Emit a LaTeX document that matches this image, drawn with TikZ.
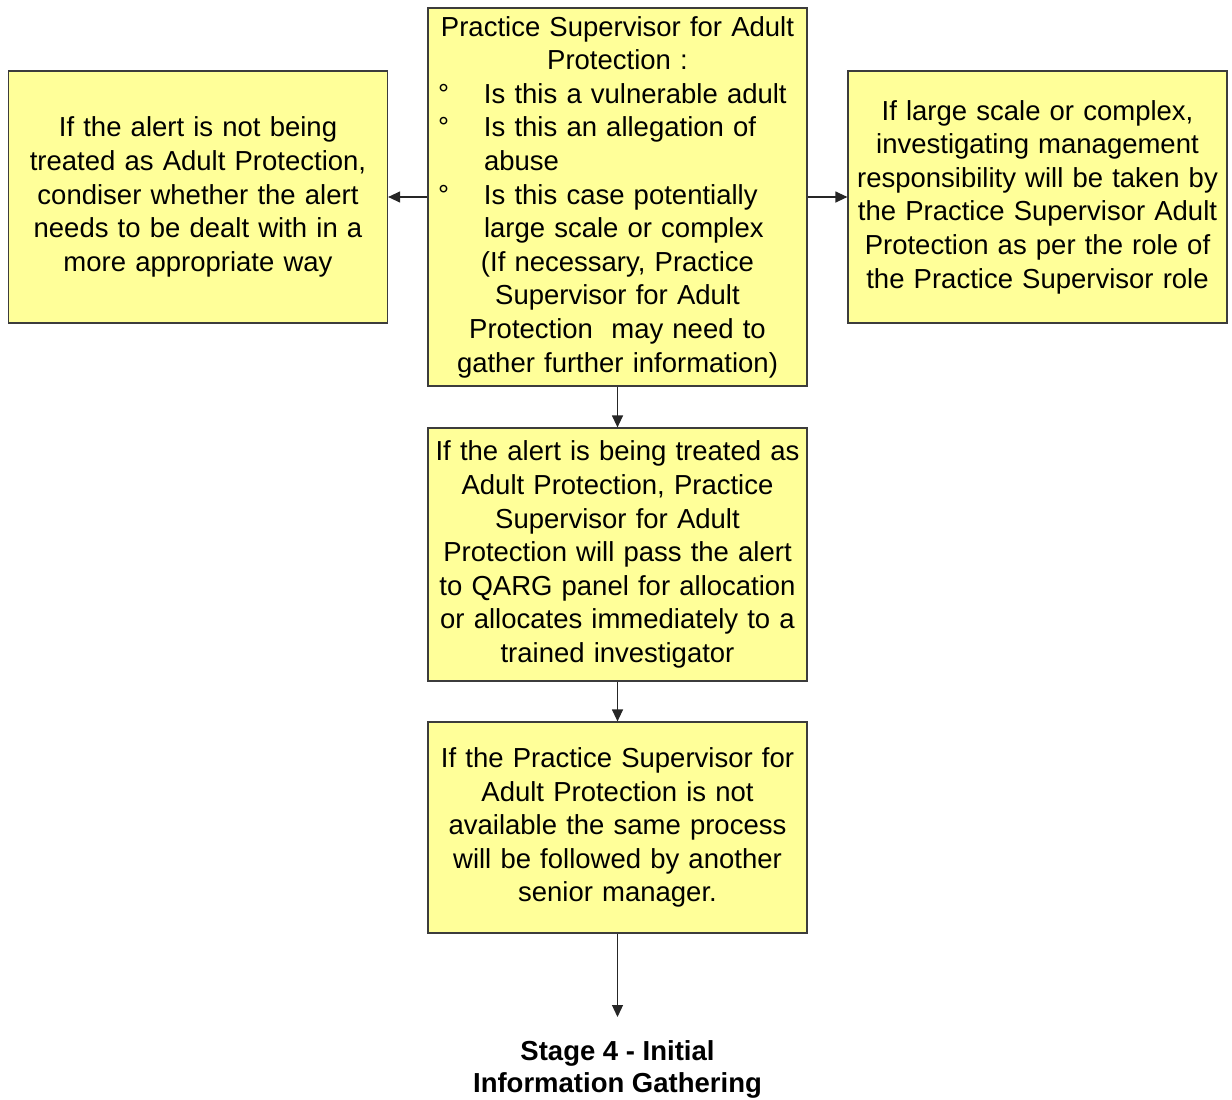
\documentclass[tikz,border=0pt]{standalone}
\usepackage{fontspec}
\setmainfont{Liberation Sans}
\usetikzlibrary{arrows.meta}
\definecolor{boxfill}{RGB}{255,255,153}
\definecolor{boxline}{RGB}{60,60,60}
\hyphenpenalty=10000
\exhyphenpenalty=10000
% bulleted line and its continuation, left aligned inside a centred box
\newcommand{\bulline}[1]{\makebox[379pt][l]{\hspace{10pt}\makebox[46pt][l]{°}#1}}
\newcommand{\contline}[1]{\makebox[379pt][l]{\hspace{56pt}#1}}
\begin{document}
\begin{tikzpicture}[x=1pt,y=-1pt,
  txt/.style={font=\fontsize{27.5}{33.6}\selectfont, align=center, inner sep=0pt},
  flowbox/.style={txt, draw=boxline, line width=1.2pt, fill=boxfill,
    text width=379pt, minimum width=379pt},
  arr/.style={draw=black!85, line width=1.2pt, -{Triangle[length=12pt,width=11pt]}}]
\useasboundingbox (0,0) rectangle (1232,1100);

% question box at the top
\node[flowbox, minimum height=378pt] (top) at (617.5,197)
  {Practice Supervisor for Adult\\
   Protection :\\
   \bulline{Is this a vulnerable adult}\\
   \bulline{Is this an allegation of}\\
   \contline{abuse}\\
   \bulline{Is this case potentially}\\
   \contline{large scale or complex}\\
   (If necessary, Practice\\
   Supervisor for Adult\\
   Protection\ \ may need to\\
   gather further information)};

% side outcomes
\node[flowbox, minimum height=252pt] (left) at (198,197)
  {If the alert is not being\\
   treated as Adult Protection,\\
   condiser whether the alert\\
   needs to be dealt with in a\\
   more appropriate way};
\node[flowbox, minimum height=252pt] (right) at (1037.5,197)
  {If large scale or complex,\\
   investigating management\\
   responsibility will be taken by\\
   the Practice Supervisor Adult\\
   Protection as per the role of\\
   the Practice Supervisor role};

% main path
\node[flowbox, minimum height=253pt] (mid) at (617.5,554.5)
  {If the alert is being treated as\\
   Adult Protection, Practice\\
   Supervisor for Adult\\
   Protection will pass the alert\\
   to QARG panel for allocation\\
   or allocates immediately to a\\
   trained investigator};
\node[flowbox, minimum height=211pt] (bot) at (617.5,827.5)
  {If the Practice Supervisor for\\
   Adult Protection is not\\
   available the same process\\
   will be followed by another\\
   senior manager.};

\coordinate (stagetip) at (617.5,1017);
\node[txt, font=\bfseries\fontsize{27.5}{32}\selectfont] (stage) at (617.5,1069)
  {Stage 4 - Initial\\Information Gathering};

% connectors
\draw[arr] (top.west) -- (left.east);
\draw[arr] (top.east) -- (right.west);
\draw[arr] (top.south) -- (mid.north);
\draw[arr] (mid.south) -- (bot.north);
\draw[arr] (bot.south) -- (stagetip);
\end{tikzpicture}
\end{document}
